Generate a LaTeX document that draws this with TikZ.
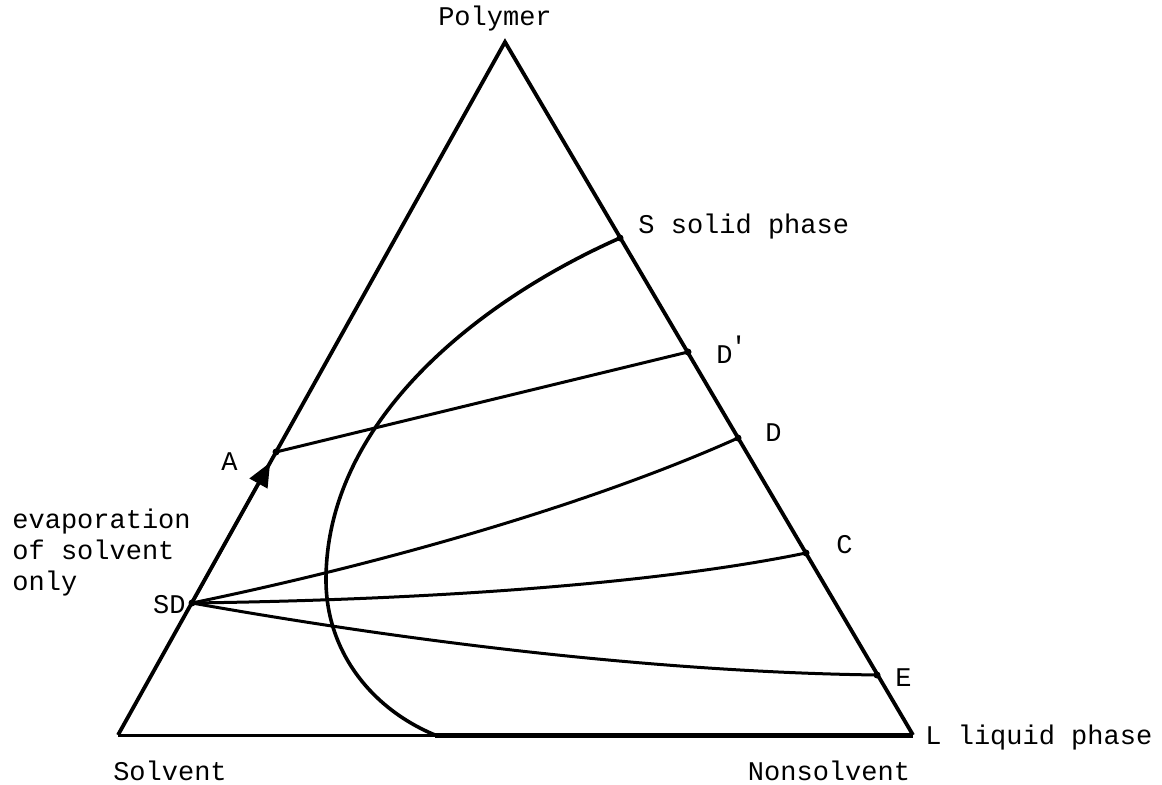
\documentclass[tikz,border=0pt]{standalone}
\usepackage{fontspec}
\setmonofont{Liberation Mono}
\usetikzlibrary{positioning,calc,arrows.meta}

\begin{document}
\begin{tikzpicture}[x=0.5pt, y=-0.5pt,
      edge/.style={line width=1.9pt, line join=miter},
      tie/.style={line width=1.5pt},
      dotmark/.style={fill=black},
      lbl/.style={font=\ttfamily\fontsize{13.5}{15.5}\selectfont, inner sep=0pt}
    ]
      \useasboundingbox (0,0) rectangle (1162,785);

      % Corners and points on the edges
      \coordinate (P) at (505,42);
      \coordinate (Sv) at (118,735);
      \coordinate (L) at (913,735);
      \coordinate (B) at (435,735);
      \coordinate (S) at (620,238);
      \coordinate (Dp) at (688,352);
      \coordinate (D) at (738,438);
      \coordinate (C) at (806,553);
      \coordinate (E) at (877,675);
      \coordinate (A) at (276,452);
      \coordinate (SD) at (192,603);
      \coordinate (W) at (326,580);

      % Triangle
      \draw[edge] (Sv) -- (P) -- (L);
      \draw[tie] (Sv) -- (B);
      \draw[line width=2.5pt] (B) -- (L);

      % Evaporation arrow
      \draw[tie, -{Triangle[length=12pt, width=10pt]}] (SD) -- ($(SD)!0.93!(A)$);

      % Binodal
      \draw[line width=1.8pt] (S) .. controls (480,300) and (326,420) .. (W)
        .. controls (326,650) and (370,708) .. (B);

      % Tie lines
      \draw[tie] (A) -- (Dp);
      \draw[tie] (SD) .. controls (400,560) and (600,500) .. (D);
      \draw[tie] (SD) .. controls (420,600) and (650,585) .. (C);
      \draw[tie] (SD) .. controls (400,640) and (650,672) .. (E);

      \foreach \p in {S,Dp,D,C,E,A,SD}
        \fill[dotmark] (\p) circle (3.5);

      % Labels
      \node[lbl, above=5pt of P, xshift=-5pt] (polymer) {Polymer};
      \node[lbl, right=9pt of S, yshift=5.5pt] (slbl) {S solid phase};
      \node[lbl, right=14pt of Dp, yshift=1pt] (dplbl) {D\kern-1pt\raisebox{4pt}{'}};
      \node[lbl, right=13.5pt of D, yshift=2.5pt] (dlbl) {D};
      \node[lbl, right=15pt of C, yshift=4pt] (clbl) {C};
      \node[lbl, right=9pt of E, yshift=-1.5pt] (elbl) {E};
      \node[lbl, right=6pt of L, yshift=-1.5pt] (llbl) {L liquid phase};
      \node[lbl, left=19pt of A, yshift=-5pt] (albl) {A};
      \node[lbl, left=3pt of SD, yshift=-1pt] (sdlbl) {SD};
      \node[lbl, align=left, anchor=west] (evap) at (12,553) {evaporation\\of solvent\\only};
      \node[lbl, below=13pt of Sv, xshift=26pt] (solvent) {Solvent};
      \node[lbl, below=13pt of L, xshift=-42pt] (nonsolvent) {Nonsolvent};
    \end{tikzpicture}
\end{document}
